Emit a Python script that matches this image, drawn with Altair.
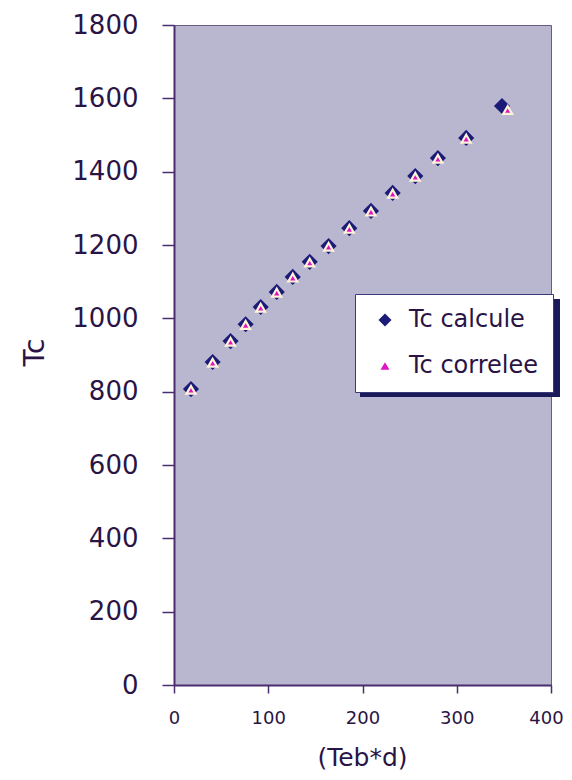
import altair as alt
import pandas as pd

# Data
x_calcule = [18, 41, 60, 76, 92, 109, 126, 144, 164, 186, 209, 232, 256, 280, 310, 348]
y_calcule = [807, 881, 938, 984, 1031, 1072, 1113, 1154, 1197, 1246, 1293, 1342, 1388, 1437, 1492, 1579]
x_correlee = [18, 41, 60, 76, 92, 109, 126, 144, 164, 186, 209, 232, 256, 280, 310, 354]
y_correlee = [805, 879, 936, 982, 1029, 1070, 1111, 1152, 1195, 1244, 1291, 1340, 1386, 1435, 1490, 1568]
series_names = ["Tc calcule", "Tc correlee"]
x_ticks = [0, 100, 200, 300, 400]
y_ticks = [0, 200, 400, 600, 800, 1000, 1200, 1400, 1600, 1800]

df = pd.DataFrame(
    {
        "x": x_calcule + x_correlee,
        "y": y_calcule + y_correlee,
        "series": [series_names[0]] * len(x_calcule) + [series_names[1]] * len(x_correlee),
    }
)

FONT = "DejaVu Sans"
TXT = "#2a1446"
AXIS = "#4a2d6e"

W, H = 377, 660

shadow = alt.Chart(pd.DataFrame({"a": [0]})).mark_rect(color="#1a1a5a").encode(
    x=alt.value(186), x2=alt.value(386), y=alt.value(274), y2=alt.value(372)
)

points = alt.Chart(df).mark_point(filled=True, opacity=1, strokeWidth=2.2).encode(
    x=alt.X(
        "x:Q",
        scale=alt.Scale(domain=[0, 400], nice=False),
        axis=alt.Axis(
            values=x_ticks,
            format="d",
            title="(Teb*d)",
            grid=False,
            tickSize=8,
            labelPadding=16,
            labelFontSize=18,
            labelOffset={"expr": "datum.value == 400 ? -5 : 0"},
            titleFontSize=25,
            titleFontWeight="normal",
            titleX=188,
            titleY=72,
            titleBaseline="middle",
            labelOverlap=False,
            labelFlush=False,
        ),
    ),
    y=alt.Y(
        "y:Q",
        scale=alt.Scale(domain=[0, 1800], nice=False),
        axis=alt.Axis(
            values=y_ticks,
            format="d",
            title="Tc",
            grid=False,
            tickSize=12,
            labelPadding=24,
            labelFontSize=26,
            titleFontSize=28,
            titleFontWeight="normal",
            titleX=-139,
            titleY=327,
            titleAngle=-90,
            titleAlign="center",
            titleBaseline="middle",
            labelOverlap=False,
        ),
    ),
    color=alt.Color(
        "series:N",
        scale=alt.Scale(domain=series_names, range=["#1c1c78", "#e014c0"]),
        legend=alt.Legend(
            title=None,
            orient="none",
            legendX=181,
            legendY=269,
            fillColor="white",
            strokeColor="#3a3a7a",
            padding=14,
            labelFontSize=24,
            labelFont=FONT,
            labelColor=TXT,
            rowPadding=22,
            symbolOffset=4,
            labelOffset=12,
            symbolStrokeWidth=0,
            labelLimit=300,
        ),
    ),
    shape=alt.Shape(
        "series:N",
        scale=alt.Scale(domain=series_names, range=["diamond", "triangle-up"]),
    ),
    size=alt.Size(
        "series:N",
        scale=alt.Scale(domain=series_names, range=[170, 80]),
    ),
    stroke=alt.Stroke(
        "series:N",
        scale=alt.Scale(domain=series_names, range=["#1c1c78", "#fff4d8"]),
        legend=None,
    ),
)

chart = (
    alt.layer(points, shadow)
    .properties(
        width=W,
        height=H,
        autosize=alt.AutoSizeParams(type="none"),
        padding={"left": 166, "top": 17, "right": 13, "bottom": 87},
        background="white",
    )
    .configure_view(fill="#b9b6d0", stroke="#6a5a8a", strokeWidth=1)
    .configure_axis(
        labelFont=FONT,
        titleFont=FONT,
        labelColor=TXT,
        titleColor=TXT,
        domainColor=AXIS,
        tickColor=AXIS,
        domainWidth=2,
        tickWidth=1.5,
    )
)

chart.save("out.html", embed_options={"renderer": "svg", "actions": False})
